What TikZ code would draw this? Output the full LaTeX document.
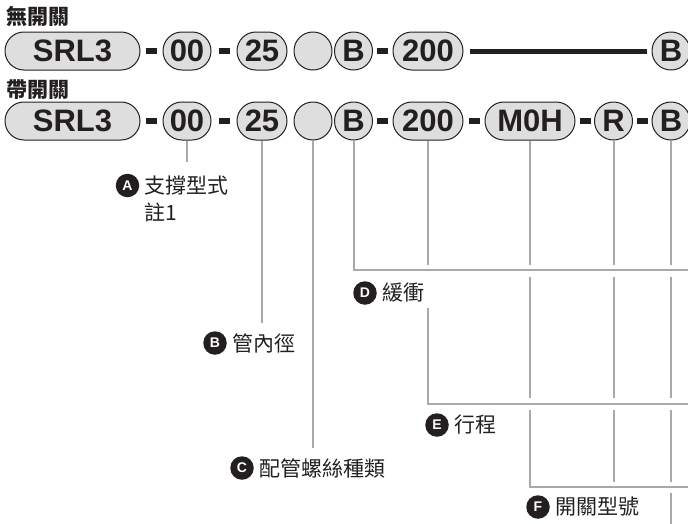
\documentclass[tikz,border=0pt]{standalone}
\usepackage{fontspec}
\setmainfont{Liberation Sans}
\newfontfamily\cjk{Noto Sans CJK TC}
\usepackage{tikz}
\usetikzlibrary{positioning}
\usepackage{xcolor}

\definecolor{ink}{RGB}{35,31,32}
\definecolor{pillfill}{RGB}{222,222,222}
\definecolor{leadgray}{RGB}{167,169,172}

\tikzset{
    pill/.style={draw=ink, line width=1pt, fill=pillfill, rounded corners=18.9pt, minimum height=38pt, inner sep=0pt, text=ink, font=\bfseries\fontsize{31}{31}\selectfont},
    hyph/.style={fill=ink, minimum width=11pt, minimum height=6pt, inner sep=0pt},
    lead/.style={leadgray, line width=2pt},
    tag/.style={circle, fill=ink, text=white, minimum size=23.5pt, inner sep=0pt, font=\bfseries\fontsize{14}{14}\selectfont},
    note/.style={anchor=west, inner sep=0pt, text=ink, font=\cjk\fontsize{21}{25}\selectfont},
    head/.style={note, font=\cjk\bfseries\fontsize{21}{25}\selectfont}
}

\begin{document}
\begin{tikzpicture}[x=1pt, y=-1pt]
    \useasboundingbox (0, 0) rectangle (688, 523);

    \coordinate (rowA) at (0, 51);
    \coordinate (rowB) at (0, 121);
    \coordinate (footA) at (0, 162);
    \coordinate (footB) at (0, 323);
    \coordinate (footC) at (0, 448);
    \coordinate (stopD) at (0, 265);
    \coordinate (goD) at (0, 277);
    \coordinate (lineD) at (690, 270);
    \coordinate (labD) at (0, 308);
    \coordinate (stopE) at (0, 398);
    \coordinate (goE) at (0, 410);
    \coordinate (lineE) at (690, 404);
    \coordinate (stopF) at (0, 482);
    \coordinate (goF) at (0, 493);
    \coordinate (lineF) at (690, 487);
    \coordinate (bottom) at (0, 525);

    \node[head] (hdA) at (6, 16) {無開關};
    \node[head] (hdB) at (6, 90) {帶開關};

    \begin{scope}[shift=(rowA)]
      \node[pill, minimum width=135pt] (srlA) at (72.5, 0) {SRL3};
      \node[pill, minimum width=48pt] (supA) at (187, 0) {00};
      \node[pill, minimum width=50pt] (boreA) at (262, 0) {25};
      \node[pill, minimum width=38pt] (portA) at (313, 0) {};
      \node[pill, minimum width=38pt] (cushA) at (353.5, 0) {B};
      \node[pill, minimum width=70pt] (strokeA) at (428, 0) {200};
      \node[pill, minimum width=38pt] (endA) at (671, 0) {B};
      \foreach \x [count=\i] in {151.5, 224, 382.5}
        \node[hyph] (hA\i) at (\x, 0) {};
      \path[draw, ink, line width=5pt] ([xshift=6pt]strokeA.east) -- ([xshift=-5pt]endA.west);
    \end{scope}

    \begin{scope}[shift=(rowB)]
      \node[pill, minimum width=135pt] (srlB) at (72.5, 0) {SRL3};
      \node[pill, minimum width=48pt] (supB) at (187, 0) {00};
      \node[pill, minimum width=50pt] (boreB) at (262, 0) {25};
      \node[pill, minimum width=38pt] (portB) at (313, 0) {};
      \node[pill, minimum width=38pt] (cushB) at (353.5, 0) {B};
      \node[pill, minimum width=70pt] (strokeB) at (428, 0) {200};
      \node[pill, minimum width=90pt] (swB) at (530, 0) {M0H};
      \node[pill, minimum width=38pt] (qtyB) at (613.5, 0) {R};
      \node[pill, minimum width=38pt] (endB) at (671, 0) {B};
      \foreach \x [count=\i] in {151.5, 224, 382.5, 474, 585, 642}
        \node[hyph] (hB\i) at (\x, 0) {};
    \end{scope}

    \path[draw, lead] (supB.south) -- (supB |- footA);
    \path[draw, lead] (boreB.south) -- (boreB |- footB);
    \path[draw, lead] (portB.south) -- (portB |- footC);
    \path[draw, lead] (cushB.south) |- (lineD);
    \path[draw, lead] (strokeB.south) -- (strokeB |- stopD) (strokeB |- labD) |- (lineE);
    \path[draw, lead] (swB.south) -- (swB |- stopD) (swB |- goD) -- (swB |- stopE) (swB |- goE) |- (lineF);
    \path[draw, lead] (qtyB.south) -- (qtyB |- stopD) (qtyB |- goD) -- (qtyB |- stopE) (qtyB |- goE) -- (qtyB |- stopF);
    \path[draw, lead] (endB.south) -- (endB |- stopD) (endB |- goD) -- (endB |- stopE) (endB |- goE) -- (endB |- stopF) (endB |- goF) -- (endB |- bottom);

    \node[tag] (tagA) at (127.5, 185.5) {A};
    \node[note, right=5pt of tagA] (noteA) {支撐型式};
    \node[note] (noteA2) at ([yshift=-27pt]noteA.west) {註1};

    \node[tag] (tagB) at (215, 343) {B};
    \node[note, right=5pt of tagB] (noteB) {管內徑};

    \node[tag] (tagC) at (242, 468) {C};
    \node[note, right=5pt of tagC] (noteC) {配管螺絲種類};

    \node[tag] (tagD) at (365, 293) {D};
    \node[note, right=5pt of tagD] (noteD) {緩衝};

    \node[tag] (tagE) at (437, 425) {E};
    \node[note, right=5pt of tagE] (noteE) {行程};

    \node[tag] (tagF) at (538, 507) {F};
    \node[note, right=5pt of tagF] (noteF) {開關型號};
\end{tikzpicture}
\end{document}
